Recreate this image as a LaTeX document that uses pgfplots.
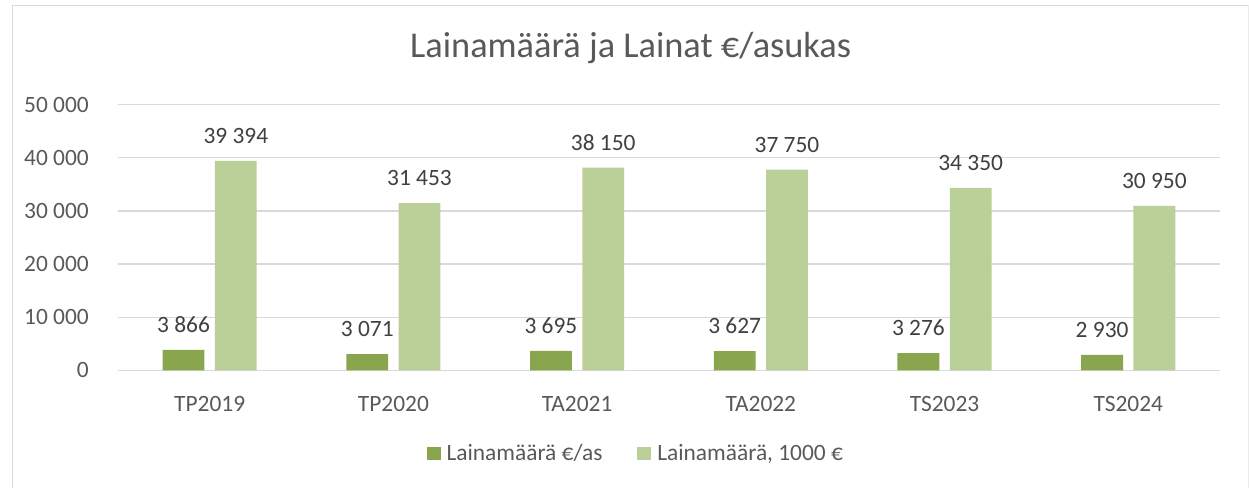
\documentclass[border=0pt]{standalone}
\usepackage{fontspec}
\setmainfont{Carlito}
\usepackage{pgfplots}
\pgfplotsset{compat=1.18}
\definecolor{darkg}{RGB}{137,166,78}
\definecolor{lightg}{RGB}{187,207,152}
\definecolor{txt}{RGB}{89,89,89}
\definecolor{lbl}{RGB}{64,64,64}
\definecolor{gridc}{RGB}{217,217,217}
\begin{document}
\fontsize{23.5}{28}\selectfont
\pgfkeys{/pgf/number format/.cd,1000 sep={\ },assume math mode=true}
\begin{tikzpicture}[x=1pt,y=1pt]
\useasboundingbox (0,0) rectangle (1249,490);
\draw[gridc, line width=1.5pt] (7,0) -- (7,484.5) -- (1248,484.5);
\draw[gridc!50, line width=1pt] (1248,484.5) -- (1248,0);
\node[txt, font=\fontsize{36.5}{44}\selectfont, anchor=base, inner sep=0pt] at (628,432) {Lainamäärä ja Lainat €/asukas};
\begin{axis}[
  at={(113pt,118pt)}, anchor=south west,
  scale only axis, width=1107pt, height=267pt,
  xmin=-0.5, xmax=5.5, ymin=0, ymax=50000,
  ybar, bar width=42pt,
  axis line style={draw=none}, tick style={draw=none},
  ymajorgrids, grid style={gridc, line width=1.5pt},
  ytick={0,10000,20000,30000,40000,50000},
  scaled y ticks=false,
  xtick={0,1,2,3,4,5},
  xticklabels={TP2019,TP2020,TA2021,TA2022,TS2023,TS2024},
  tick label style={txt, font=\fontsize{23.5}{28}\selectfont},
  yticklabel style={anchor=east, inner sep=0pt, xshift=-29pt},
  xticklabel style={anchor=north, inner sep=0pt, yshift=-22pt},
  nodes near coords,
  every node near coord/.append style={lbl, anchor=south, inner sep=0pt, yshift=17pt, font=\fontsize{23.5}{28}\selectfont},
  legend columns=2,
  legend style={at={(0.469,-0.315)}, anchor=center, draw=none, fill=none,
    font=\fontsize{23.5}{28}\selectfont, text=txt,
    nodes={inner sep=0pt},
    /tikz/every odd column/.append style={column sep=6pt},
    /tikz/every even column/.append style={column sep=35pt}},
  legend image code/.code={\fill[#1,draw=none] (0pt,-6pt) rectangle (14pt,7pt);},
]
\addplot[fill=darkg, draw=none, bar shift=-26.25pt] coordinates {(0,3866) (1,3071) (2,3695) (3,3627) (4,3276) (5,2930)};
\addplot[fill=lightg, draw=none, bar shift=26.25pt] coordinates {(0,39394) (1,31453) (2,38150) (3,37750) (4,34350) (5,30950)};
\legend{Lainamäärä €/as, {Lainamäärä, 1000 €}}
\end{axis}
\end{tikzpicture}
\end{document}
